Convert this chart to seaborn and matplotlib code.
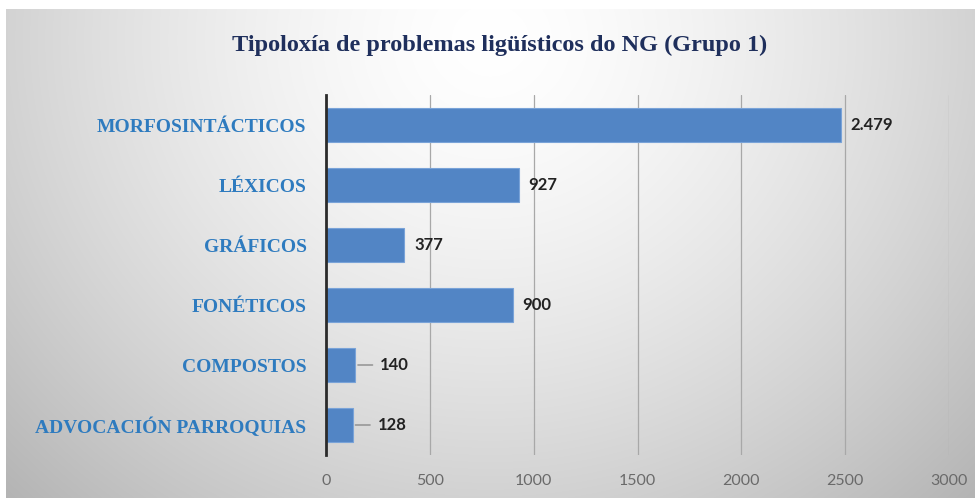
import numpy as np
import pandas as pd
import matplotlib
matplotlib.use("Agg")
import matplotlib.pyplot as plt
import seaborn as sns

categories = ["MORFOSINTÁCTICOS", "LÉXICOS", "GRÁFICOS", "FONÉTICOS",
              "COMPOSTOS", "ADVOCACIÓN PARROQUIAS"]
values = [2479, 927, 377, 900, 140, 128]
value_labels = ["2.479", "927", "377", "900", "140", "128"]
xticks = [0, 500, 1000, 1500, 2000, 2500, 3000]

sns.set_style("white")

W, H = 975, 498
fig = plt.figure(figsize=(W / 100, H / 100), dpi=100)

# background: soft radial gray gradient with white margin at top/left
bg = fig.add_axes([0, 0, 1, 1], zorder=-5)
yy, xx = np.mgrid[0:H, 0:W]
r = np.sqrt(((xx - 490) / 580.0) ** 2 + ((yy - 40) / 540.0) ** 2)
g = np.clip(255 - 58 * r ** 1.5, 0, 255) / 255.0
g[:9, :] = 1.0
g[:, :6] = 1.0
img = np.dstack([g, g, g])
bg.imshow(img, extent=[0, W, H, 0], aspect="auto", interpolation="bilinear")
bg.axis("off")

ax = fig.add_axes([326 / W, (H - 455) / H, (949 - 326) / W, 360 / H])
ax.set_facecolor("none")

df = pd.DataFrame({"cat": categories, "val": values})
sns.barplot(data=df, x="val", y="cat", orient="h", color="#5285c5",
            saturation=1, width=0.58, edgecolor="#79a3d8", linewidth=0.8,
            ax=ax, zorder=3)

ax.set_xlim(0, 3000)
ax.set_ylim(len(categories) - 0.5, -0.5)
ax.set_xticks(xticks)
ax.set_xticklabels([str(t) for t in xticks], fontsize=11.5, color="#6a6a6a",
                   family="Lato")
ax.tick_params(axis="x", length=0, pad=14)
ax.tick_params(axis="y", length=0, pad=14)
for lab in ax.get_yticklabels():
    lab.set_family("Liberation Serif")
    lab.set_fontweight("bold")
    lab.set_fontsize(14)
    lab.set_color("#2e7bbf")

ax.grid(axis="x", color="#a8a8a8", linewidth=0.9, zorder=0)
ax.grid(axis="y", visible=False)
for s in ["top", "right", "bottom"]:
    ax.spines[s].set_visible(False)
ax.spines["left"].set_color("#2b2b2b")
ax.spines["left"].set_linewidth(2)
ax.spines["left"].set_zorder(4)
ax.set_xlabel("")
ax.set_ylabel("")

for i, (v, lab) in enumerate(zip(values, value_labels)):
    if v < 200:
        ax.annotate(lab, xy=(v, i), xytext=(18, 0), textcoords="offset points",
                    va="center", ha="left", fontsize=12, fontweight="bold",
                    family="Lato", color="#222222",
                    arrowprops=dict(arrowstyle="-", color="#8a8a8a", lw=1,
                                    shrinkA=3, shrinkB=2))
    else:
        ax.annotate(lab, xy=(v, i), xytext=(7, 0), textcoords="offset points",
                    va="center", ha="left", fontsize=12, fontweight="bold",
                    family="Lato", color="#222222")

fig.text(500 / W, 1 - 45 / H, "Tipoloxía de problemas ligüísticos do NG (Grupo 1)",
         ha="center", va="center", fontsize=17.5, fontweight="bold",
         family="Liberation Serif", color="#1f2f5c")

fig.savefig("out.png", dpi=100)
